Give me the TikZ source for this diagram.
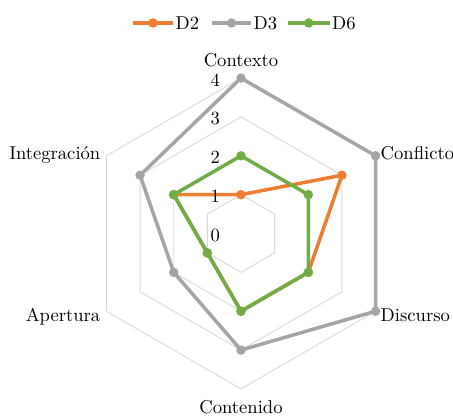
\documentclass[tikz,border=0pt]{standalone}
\usepackage{fontspec}
\newfontfamily\lmten{lmroman10-regular.otf}
\usetikzlibrary{calc}
\definecolor{cOrange}{HTML}{ED7D31}
\definecolor{cGray}{HTML}{A5A5A5}
\definecolor{cGreen}{HTML}{70AD47}
\definecolor{cGrid}{HTML}{D9D9D9}
\tikzset{
  gridline/.style={draw=cGrid, line width=0.9pt},
  serieline/.style={line width=3.5pt, line join=round},
  dotstyle/.style={circle, inner sep=0pt, minimum size=9.5pt},
  lbl/.style={font=\lmten\fontsize{18.6}{21}\selectfont, inner sep=0pt},
}
\begin{document}
\begin{tikzpicture}[x=1pt,y=1pt]
\useasboundingbox (0,0) rectangle (453,416);
\def\u{38.85}
\coordinate (C) at (241,182.5);
\begin{scope}[shift={(241,182.5)}]
  % grid hexagons
  \foreach \r in {1,...,4}{
    \draw[gridline] (90:\r*\u) -- (30:\r*\u) -- (-30:\r*\u) -- (-90:\r*\u) -- (-150:\r*\u) -- (150:\r*\u) -- cycle;
  }
  % data coordinates
  \foreach \s/\va/\vb/\vc/\vd/\ve/\vf in {d2/1/3/2/2/1/2, d3/4/4/4/3/2/3, d6/2/2/2/2/1/2}{
    \coordinate (\s-ctx) at (90:\va*\u);
    \coordinate (\s-cnf) at (30:\vb*\u);
    \coordinate (\s-dis) at (-30:\vc*\u);
    \coordinate (\s-con) at (-90:\vd*\u);
    \coordinate (\s-ape) at (-150:\ve*\u);
    \coordinate (\s-int) at (150:\vf*\u);
  }
  \foreach \s/\col in {d2/cOrange, d3/cGray, d6/cGreen}{
    \draw[serieline, draw=\col] (\s-ctx) -- (\s-cnf) -- (\s-dis) -- (\s-con) -- (\s-ape) -- (\s-int) -- cycle;
    \foreach \p in {ctx,cnf,dis,con,ape,int}{
      \node[dotstyle, fill=\col] (\s-\p-dot) at (\s-\p) {};
    }
  }
\end{scope}
% tick labels
\foreach \k in {0,...,4}{
  \node[lbl, anchor=base east] (tick\k) at (220, 174.3+38.9*\k) {\k};
}
% axis labels
\node[lbl, anchor=base] (lctx) at (241, 349.3) {Contexto};
\node[lbl, anchor=base west] (lcnf) at (380.5, 256.7) {Conflicto};
\node[lbl, anchor=base west] (ldis) at (380.5, 94.5) {Discurso};
\node[lbl, anchor=base] (lcon) at (241, 2.5) {Contenido};
\node[lbl, anchor=base east] (lape) at (100.5, 95) {Apertura};
\node[lbl, anchor=base east] (lint) at (100.5, 256.7) {Integración};
% legend
\foreach \n/\xa/\xb/\col/\txt in {a/133/173/cOrange/D2, b/212/251/cGray/D3, c/288/329.5/cGreen/D6}{
  \coordinate (lg\n-s) at (\xa, 393);
  \coordinate (lg\n-e) at (\xb, 393);
  \draw[line width=3.5pt, draw=\col] (lg\n-s) -- (lg\n-e);
  \node[dotstyle, fill=\col] (lg\n-dot) at ($(lg\n-s)!0.5!(lg\n-e)$) {};
  \node[lbl, anchor=base west] (lg\n-txt) at (\xb+2.5, 386) {\txt};
}
\end{tikzpicture}
\end{document}
